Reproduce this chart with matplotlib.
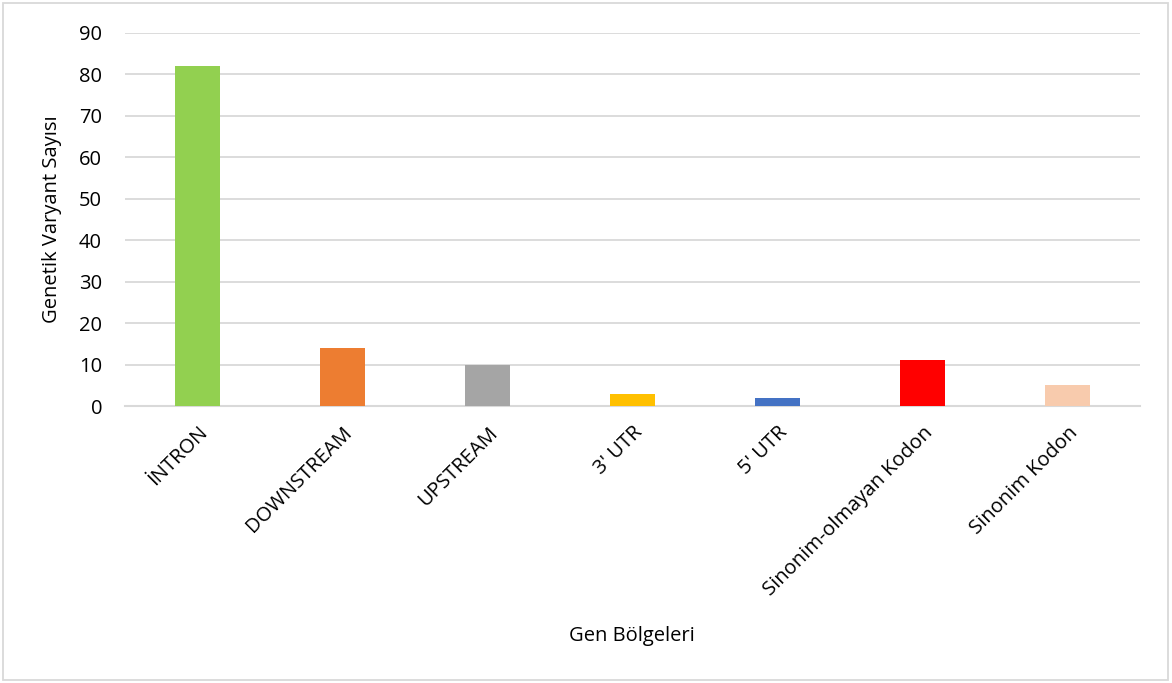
import matplotlib.pyplot as plt
from matplotlib.patches import Rectangle

plt.rcParams['font.family'] = ['Open Sans', 'DejaVu Sans']

regions = ['İNTRON', 'DOWNSTREAM', 'UPSTREAM', "3' UTR", "5' UTR",
           'Sinonim-olmayan Kodon', 'Sinonim Kodon']
variant_counts = [82, 14, 10, 3, 2, 11, 5]
bar_colors = ['#92D050', '#ED7D31', '#A5A5A5', '#FFC000', '#4472C4',
              '#FF0000', '#F8CBAD']
y_ticks = [0, 10, 20, 30, 40, 50, 60, 70, 80, 90]

fs = 14.5

fig = plt.figure(figsize=(11.72, 6.83), dpi=100)
ax = fig.add_axes([125 / 1172, 1 - 406 / 683, 1015 / 1172, 373 / 683])

x = range(len(regions))
ax.bar(x, variant_counts, width=0.317, color=bar_colors, zorder=3)

ax.set_xlim(-0.5, len(regions) - 0.5)
ax.set_ylim(0, 90)
ax.set_yticks(y_ticks)
ax.yaxis.grid(True, color='#d9d9d9', linewidth=1.3, zorder=0)
ax.set_axisbelow(True)

for side in ['top', 'right', 'left']:
    ax.spines[side].set_visible(False)
ax.spines['bottom'].set_color('#d9d9d9')
ax.spines['bottom'].set_linewidth(1.5)
ax.tick_params(axis='both', length=0, labelsize=fs, colors='black')
ax.tick_params(axis='y', pad=16.5)
ax.tick_params(axis='x', pad=12)

ax.set_xticks(list(x))
ax.set_xticklabels(regions, rotation=45, ha='right', rotation_mode='anchor')

ax.set_ylabel('Genetik Varyant Sayısı', fontsize=fs)
ax.yaxis.set_label_coords(-0.062, 0.5)
fig.text(632 / 1172, 1 - 636 / 683, 'Gen Bölgeleri', fontsize=fs,
         ha='center', va='center')

# thin frame around the whole chart area
fig.patches.append(Rectangle((3 / 1172, 3 / 683), 1165 / 1172, 677 / 683,
                             transform=fig.transFigure, fill=False,
                             edgecolor='#d9d9d9', linewidth=1.3))

fig.savefig('out.png', dpi=100)
